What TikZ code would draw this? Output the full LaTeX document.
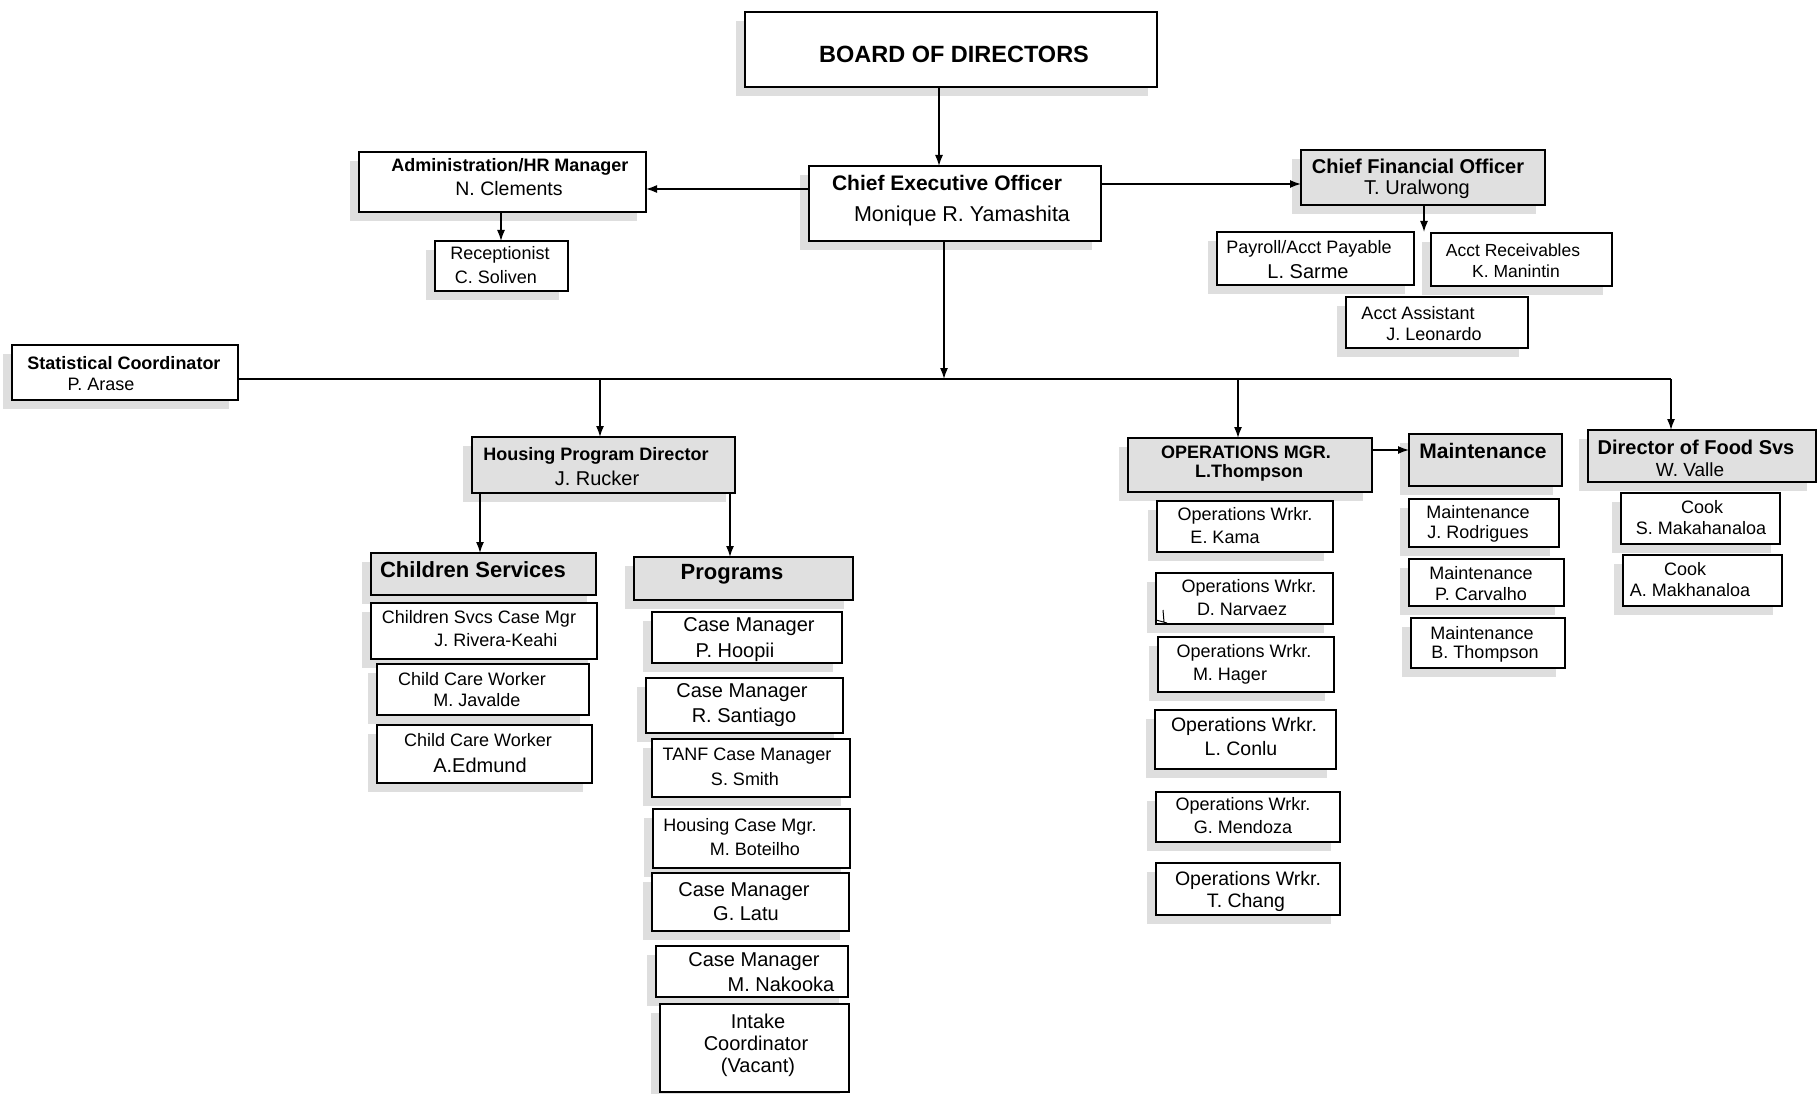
\documentclass[tikz,border=0pt]{standalone}
\usepackage{fontspec}
\setmainfont{Liberation Sans}
\usetikzlibrary{arrows.meta}
\pgfdeclarelayer{bg}
\pgfsetlayers{bg,main}
\tikzset{
  orgnode/.style={draw=black, line width=1.7pt, fill=white, inner sep=0pt, outer sep=0pt},
  orgshade/.style={orgnode, fill=black!12},
  shadowfill/.style={fill=black!13},
  rg/.style={font=\fontsize{#1}{#1}\selectfont, inner sep=0pt},
  bd/.style={font=\fontsize{#1}{#1}\selectfont\bfseries, inner sep=0pt},
  conn/.style={line width=1.5pt, -{Latex[length=11pt,width=8pt]}},
  busline/.style={line width=2pt},
}
\newcommand{\orgbox}[6]{%
  \begin{pgfonlayer}{bg}\fill[shadowfill] ({#2-9},{#3+9}) rectangle ({#4-9},{#5+9});\end{pgfonlayer}
  \node[#6, anchor=north west, minimum width={#4-#2}, minimum height={#5-#3}] (#1) at (#2,#3) {};}
\begin{document}
\begin{tikzpicture}[x=1pt,y=-1pt]
\begin{pgfonlayer}{bg}
\fill[white] (0,0) rectangle (1818,1094);
\end{pgfonlayer}
\useasboundingbox (0,0) rectangle (1818,1094);

% ---- boxes ----
\orgbox{board}{745}{12}{1157}{87}{orgnode}
\orgbox{ceo}{809}{166}{1101}{241}{orgnode}
\orgbox{admin}{359}{152}{646}{212}{orgnode}
\orgbox{recep}{435}{241}{568}{291}{orgnode}
\orgbox{cfo}{1301}{150}{1545}{205}{orgshade}
\orgbox{pay}{1217}{232}{1414}{285}{orgnode}
\orgbox{rec}{1431}{233}{1612}{286}{orgnode}
\orgbox{asst}{1346}{297}{1528}{348}{orgnode}
\orgbox{stat}{12}{345}{238}{400}{orgnode}
\orgbox{hous}{472}{437}{735}{493}{orgshade}
\orgbox{child}{371}{553}{596}{595}{orgshade}
\orgbox{prog}{634}{557}{853}{600}{orgshade}
\orgbox{cscm}{371}{603}{597}{659}{orgnode}
\orgbox{ccwa}{377}{664}{589}{715}{orgnode}
\orgbox{ccwb}{377}{725}{592}{783}{orgnode}
\orgbox{cma}{652}{612}{842}{663}{orgnode}
\orgbox{cmb}{646}{678}{843}{733}{orgnode}
\orgbox{tanf}{652}{739}{850}{797}{orgnode}
\orgbox{hcm}{653}{809}{850}{868}{orgnode}
\orgbox{cmc}{652}{873}{849}{931}{orgnode}
\orgbox{cmd}{656}{946}{848}{997}{orgnode}
\orgbox{intake}{660}{1004}{849}{1092}{orgnode}
\orgbox{ops}{1128}{438}{1372}{492}{orgshade}
\orgbox{maint}{1409}{434}{1562}{486}{orgshade}
\orgbox{food}{1588}{430}{1816}{482}{orgshade}
\orgbox{owa}{1157}{501}{1333}{552}{orgnode}
\orgbox{owb}{1156}{573}{1333}{624}{orgnode}
\orgbox{owc}{1158}{637}{1334}{692}{orgnode}
\orgbox{owd}{1155}{710}{1336}{769}{orgnode}
\orgbox{owe}{1156}{792}{1340}{842}{orgnode}
\orgbox{owf}{1156}{863}{1340}{915}{orgnode}
\orgbox{mta}{1409}{499}{1559}{547}{orgnode}
\orgbox{mtb}{1409}{559}{1564}{606}{orgnode}
\orgbox{mtc}{1411}{618}{1565}{668}{orgnode}
\orgbox{cka}{1621}{493}{1780}{544}{orgnode}
\orgbox{ckb}{1623}{555}{1782}{606}{orgnode}

% small stray mark in the D. Narvaez box
\draw[line width=1pt] (1163,610) -- (1164,622) (1156,620) -- (1167,623);

% ---- texts ----
\node[bd=23.5] (board-t) at (954,54) {BOARD OF DIRECTORS};
\node[bd=21] (ceo-t1) at (947,183) {Chief Executive Officer};
\node[rg=21.5] (ceo-t2) at (962,216) {Monique R. Yamashita};
\node[bd=18] (admin-t1) at (510,167) {Administration/HR Manager};
\node[rg=19.5] (admin-t2) at (509,189) {N. Clements};
\node[rg=18] (recep-t1) at (500,255) {Receptionist};
\node[rg=18] (recep-t2) at (496,277) {C. Soliven};
\node[bd=20] (cfo-t1) at (1418,166) {Chief Financial Officer};
\node[rg=20] (cfo-t2) at (1417,189) {T. Uralwong};
\node[rg=18] (pay-t1) at (1309,249) {Payroll/Acct Payable};
\node[rg=20] (pay-t2) at (1308,272) {L. Sarme};
\node[rg=17.5] (rec-t1) at (1513,250) {Acct Receivables};
\node[rg=17.5] (rec-t2) at (1516,271) {K. Manintin};
\node[rg=18] (asst-t1) at (1418,313) {Acct Assistant};
\node[rg=18] (asst-t2) at (1434,334) {J. Leonardo};
\node[bd=18] (stat-t1) at (124,363) {Statistical Coordinator};
\node[rg=18] (stat-t2) at (101,384) {P. Arase};
\node[bd=18] (hous-t1) at (596,456) {Housing Program Director};
\node[rg=20] (hous-t2) at (597,478) {J. Rucker};
\node[bd=22] (child-t) at (473,570) {Children Services};
\node[bd=22] (prog-t) at (732,574) {Programs};
\node[rg=18] (cscm-t1) at (479,619) {Children Svcs Case Mgr};
\node[rg=18] (cscm-t2) at (496,640) {J. Rivera-Keahi};
\node[rg=18] (ccwa-t1) at (472,679) {Child Care Worker};
\node[rg=18] (ccwa-t2) at (477,700) {M. Javalde};
\node[rg=18] (ccwb-t1) at (478,740) {Child Care Worker};
\node[rg=20] (ccwb-t2) at (480,765) {A.Edmund};
\node[rg=20] (cma-t1) at (749,627) {Case Manager};
\node[rg=20] (cma-t2) at (735,652) {P. Hoopii};
\node[rg=20] (cmb-t1) at (742,693) {Case Manager};
\node[rg=20] (cmb-t2) at (744,717) {R. Santiago};
\node[rg=18] (tanf-t1) at (747,756) {TANF Case Manager};
\node[rg=18] (tanf-t2) at (745,779) {S. Smith};
\node[rg=18] (hcm-t1) at (740,827) {Housing Case Mgr.};
\node[rg=18] (hcm-t2) at (755,849) {M. Boteilho};
\node[rg=20] (cmc-t1) at (744,892) {Case Manager};
\node[rg=20] (cmc-t2) at (746,914) {G. Latu};
\node[rg=20] (cmd-t1) at (754,962) {Case Manager};
\node[rg=20] (cmd-t2) at (781,984) {M. Nakooka};
\node[rg=20] (intake-t1) at (758,1021) {Intake};
\node[rg=20] (intake-t2) at (756,1043) {Coordinator};
\node[rg=20] (intake-t3) at (758,1067) {(Vacant)};
\node[bd=18] (ops-t1) at (1246,452) {OPERATIONS MGR.};
\node[bd=18] (ops-t2) at (1249,473) {L.Thompson};
\node[bd=21] (maint-t) at (1483,451) {Maintenance};
\node[bd=20] (food-t1) at (1696,447) {Director of Food Svs};
\node[rg=19] (food-t2) at (1690,470) {W. Valle};
\node[rg=18] (owa-t1) at (1245,516) {Operations Wrkr.};
\node[rg=18] (owa-t2) at (1225,537) {E. Kama};
\node[rg=18] (owb-t1) at (1249,588) {Operations Wrkr.};
\node[rg=18] (owb-t2) at (1242,609) {D. Narvaez};
\node[rg=18] (owc-t1) at (1244,653) {Operations Wrkr.};
\node[rg=18] (owc-t2) at (1230,676) {M. Hager};
\node[rg=19.5] (owd-t1) at (1244,726) {Operations Wrkr.};
\node[rg=19.5] (owd-t2) at (1241,749) {L. Conlu};
\node[rg=18] (owe-t1) at (1243,806) {Operations Wrkr.};
\node[rg=18] (owe-t2) at (1243,827) {G. Mendoza};
\node[rg=19.5] (owf-t1) at (1248,880) {Operations Wrkr.};
\node[rg=19.5] (owf-t2) at (1246,902) {T. Chang};
\node[rg=18] (mta-t1) at (1478,512) {Maintenance};
\node[rg=18] (mta-t2) at (1478,534) {J. Rodrigues};
\node[rg=18] (mtb-t1) at (1481,573) {Maintenance};
\node[rg=18] (mtb-t2) at (1481,594) {P. Carvalho};
\node[rg=18] (mtc-t1) at (1482,633) {Maintenance};
\node[rg=18] (mtc-t2) at (1485,654) {B. Thompson};
\node[rg=18] (cka-t1) at (1702,507) {Cook};
\node[rg=18] (cka-t2) at (1701,528) {S. Makahanaloa};
\node[rg=18] (ckb-t1) at (1685,569) {Cook};
\node[rg=18] (ckb-t2) at (1690,590) {A. Makhanaloa};

% ---- connector guides ----
\coordinate (xa) at (939,0);
\coordinate (ya) at (0,189);
\coordinate (yb) at (0,184);
\coordinate (xb) at (501,0);
\coordinate (xc) at (1424,0);
\coordinate (cfoend) at (1424,232);
\coordinate (xd) at (944,0);
\coordinate (bus) at (0,379);
\coordinate (busR) at (1671,379);
\coordinate (xe) at (600,0);
\coordinate (xf) at (1238,0);
\coordinate (xg) at (480,0);
\coordinate (xh) at (730,0);
\coordinate (yc) at (0,450);

% ---- connectors ----
\draw[conn] (board.south -| xa) -- (ceo.north -| xa);
\draw[conn] (ceo.west |- ya) -- (admin.east |- ya);
\draw[conn] (ceo.east |- yb) -- (cfo.west |- yb);
\draw[conn] (admin.south -| xb) -- (recep.north -| xb);
\draw[conn] (cfo.south -| xc) -- (cfoend);
\draw[busline] (stat.east |- bus) -- (busR);
\draw[conn] (ceo.south -| xd) -- (bus -| xd);
\draw[conn] (bus -| xe) -- (hous.north -| xe);
\draw[conn] (bus -| xf) -- (ops.north -| xf);
\draw[conn] (busR) -- (food.north -| busR);
\draw[conn] (hous.south -| xg) -- (child.north -| xg);
\draw[conn] (hous.south -| xh) -- (prog.north -| xh);
\draw[conn] (ops.east |- yc) -- (maint.west |- yc);
\end{tikzpicture}
\end{document}
